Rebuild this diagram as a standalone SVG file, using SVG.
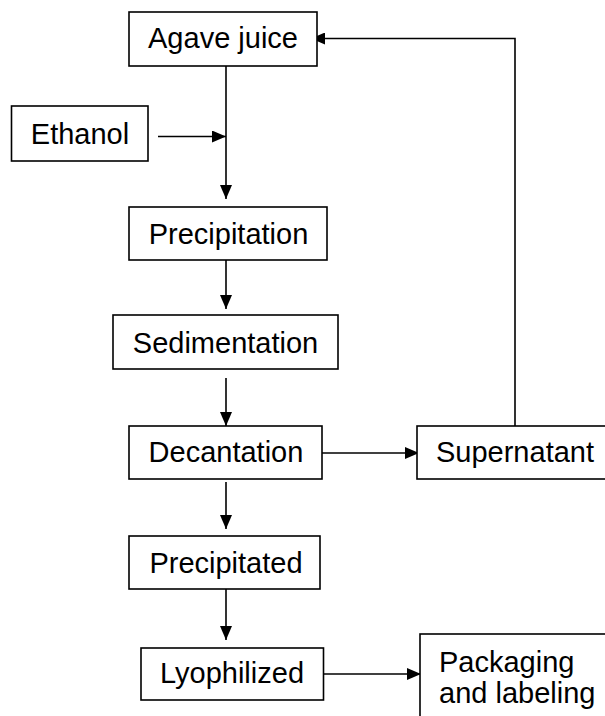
<svg xmlns="http://www.w3.org/2000/svg" width="605" height="716" viewBox="0 0 605 716">
<style>
.box{fill:#fff;stroke:#000;stroke-width:1.6}
.t{font-family:"Liberation Sans",Arial,sans-serif;font-size:29px;fill:#000}
.c{text-anchor:middle}
.ln{fill:none;stroke:#000;stroke-width:1.6}
</style>
<defs>
<marker id="ah" markerUnits="userSpaceOnUse" markerWidth="14" markerHeight="12" refX="14" refY="6" orient="auto">
<path d="M0,0 L14,6 L0,12 Z" fill="#000"/>
</marker>
</defs>
<rect width="605" height="716" fill="#fff"/>
<g id="connectors">
<path class="ln" d="M226,66 V199" marker-end="url(#ah)"/>
<path class="ln" d="M158,136.5 H226" marker-end="url(#ah)"/>
<path class="ln" d="M226,260 V309" marker-end="url(#ah)"/>
<path class="ln" d="M226,378 V426" marker-end="url(#ah)"/>
<path class="ln" d="M322,453 H419" marker-end="url(#ah)"/>
<path class="ln" d="M515,426 V38.5 H311" marker-end="url(#ah)"/>
<path class="ln" d="M226,482 V529" marker-end="url(#ah)"/>
<path class="ln" d="M226,589 V640" marker-end="url(#ah)"/>
<path class="ln" d="M323.5,674 H421" marker-end="url(#ah)"/>
</g>
<g id="agave"><rect class="box" x="129" y="12" width="188" height="54"/><text class="t c" x="223" y="48">Agave juice</text></g>
<g id="ethanol"><rect class="box" x="11.5" y="106" width="136.5" height="55"/><text class="t c" x="80" y="144">Ethanol</text></g>
<g id="precipitation"><rect class="box" x="129" y="207" width="198" height="53"/><text class="t c" x="228.5" y="244">Precipitation</text></g>
<g id="sedimentation"><rect class="box" x="113" y="315" width="225" height="54"/><text class="t c" x="225.5" y="353">Sedimentation</text></g>
<g id="decantation"><rect class="box" x="129" y="426" width="193" height="53"/><text class="t c" x="226" y="462">Decantation</text></g>
<g id="supernatant"><rect class="box" x="417" y="426" width="195" height="53"/><text class="t c" x="515" y="462">Supernatant</text></g>
<g id="precipitated"><rect class="box" x="129" y="536" width="191" height="53"/><text class="t c" x="226" y="573">Precipitated</text></g>
<g id="lyophilized"><rect class="box" x="141" y="648" width="182.5" height="52"/><text class="t c" x="232" y="683">Lyophilized</text></g>
<g id="packaging"><rect class="box" x="420" y="634" width="195" height="95"/><text class="t" x="439" y="672">Packaging</text><text class="t" x="439" y="703">and labeling</text></g>
</svg>
